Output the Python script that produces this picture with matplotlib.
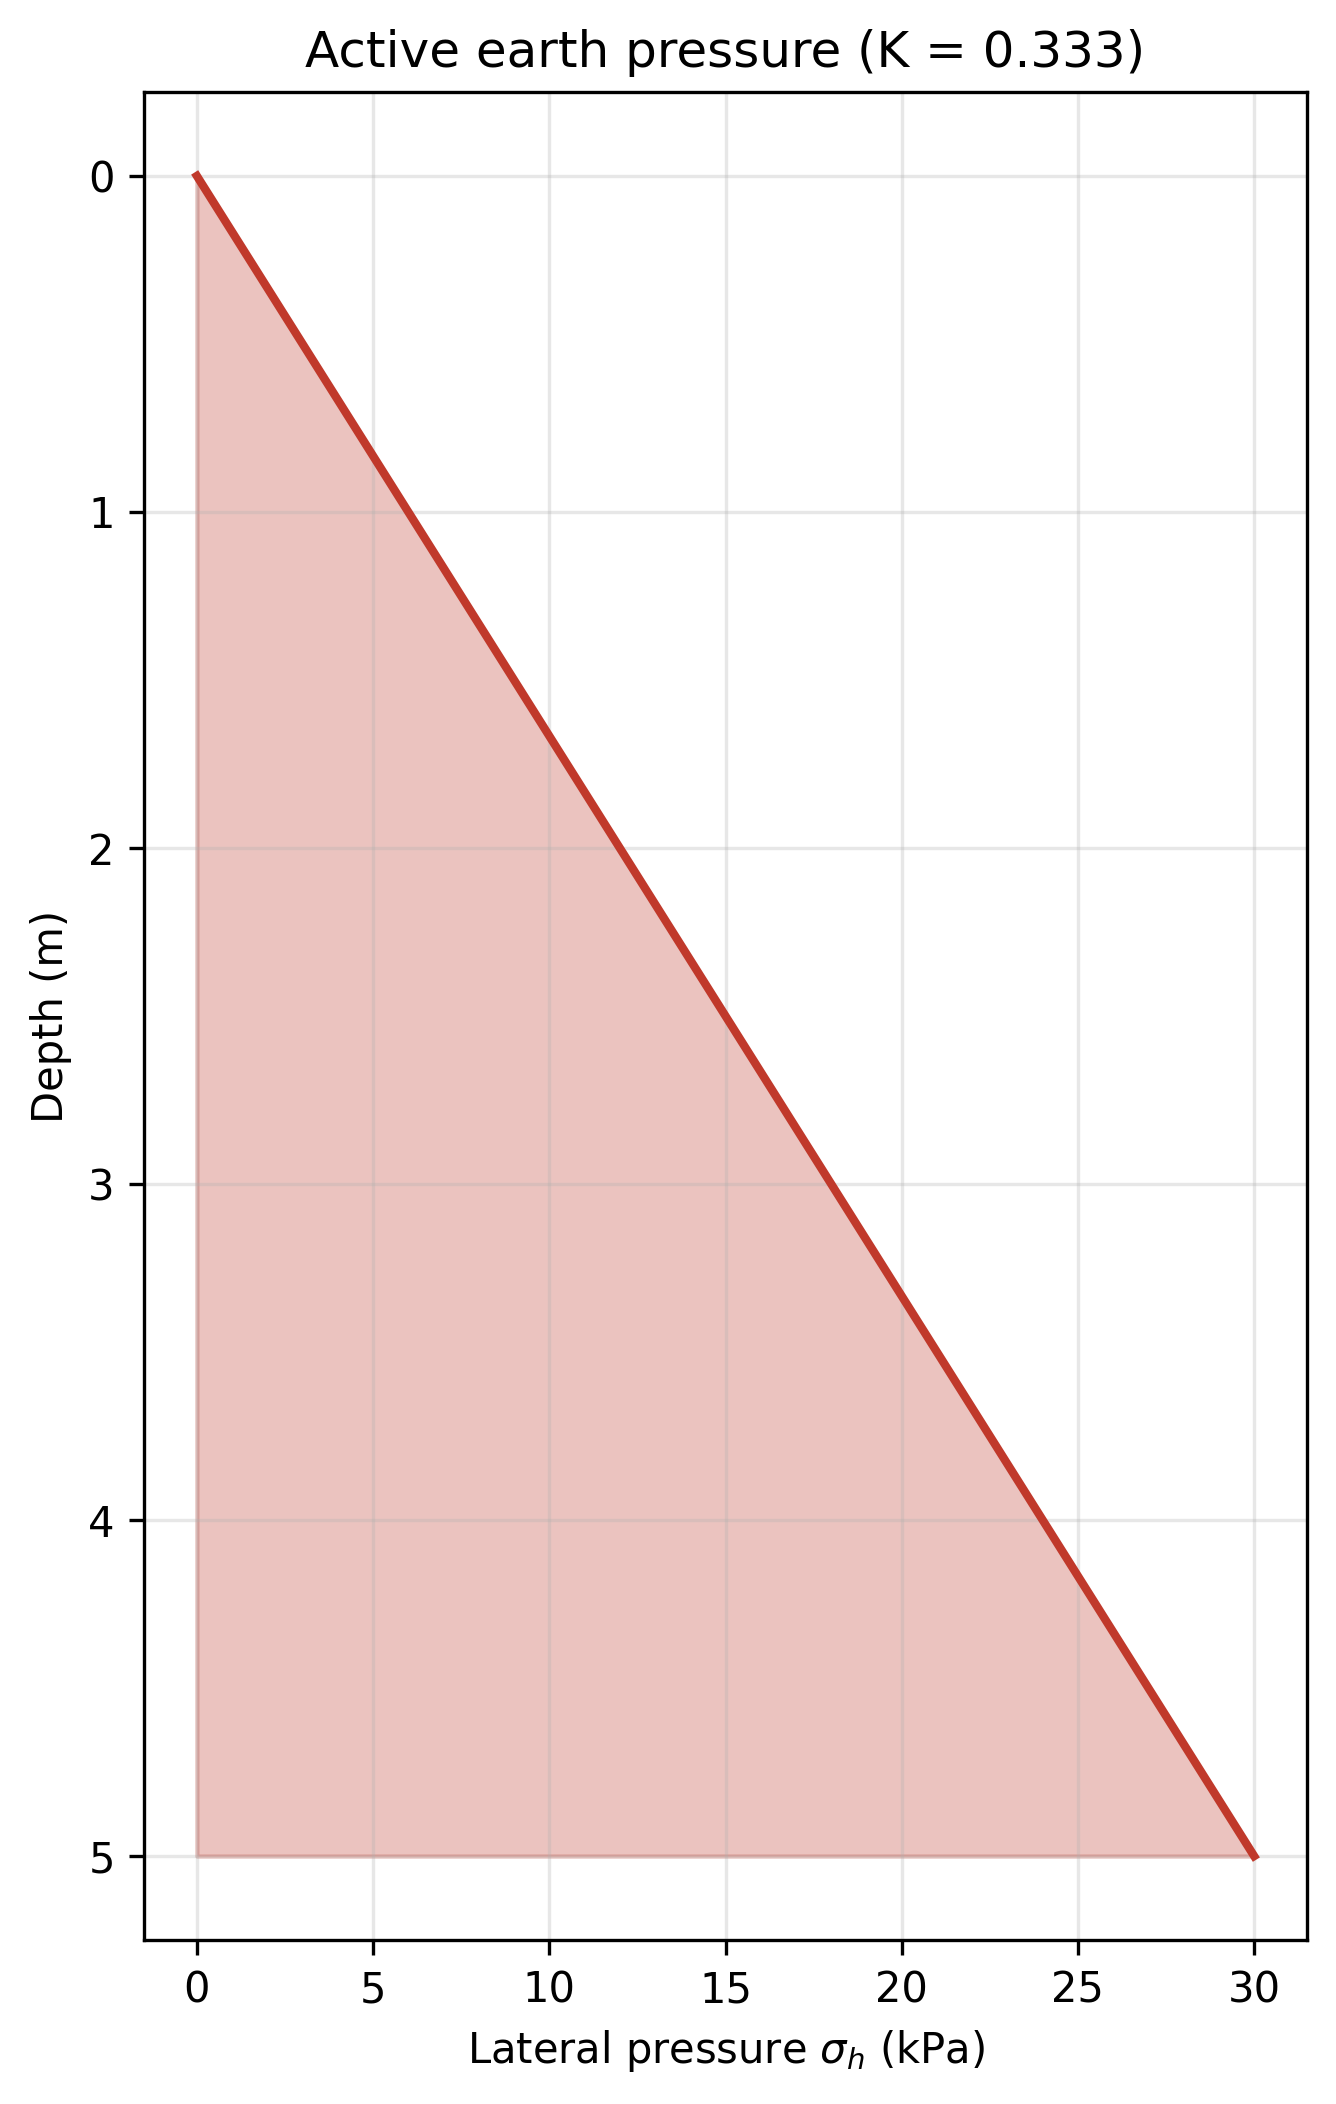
import numpy as np
import matplotlib
matplotlib.use("Agg")
from matplotlib import pyplot as plt

# active earth pressure profile
K = 0.333
depth = [0, 5]          # m
pressure = [0, 30]      # kPa

fig, ax = plt.subplots(figsize=(1336 / 300, 2104 / 300), dpi=300)
fig.subplots_adjust(left=0.1078, right=0.9783, bottom=0.0779, top=0.9563)

ax.fill_betweenx(depth, 0, pressure, color='#c0392b', alpha=0.3)
ax.plot(pressure, depth, color='#c0392b', linewidth=2)

ax.invert_yaxis()
ax.set_xlabel(r"Lateral pressure $\sigma_h$ (kPa)")
ax.set_ylabel("Depth (m)")
ax.set_title(f"Active earth pressure (K = {K})")
ax.grid(True, alpha=0.3)

fig.savefig("out.png", dpi=300)
